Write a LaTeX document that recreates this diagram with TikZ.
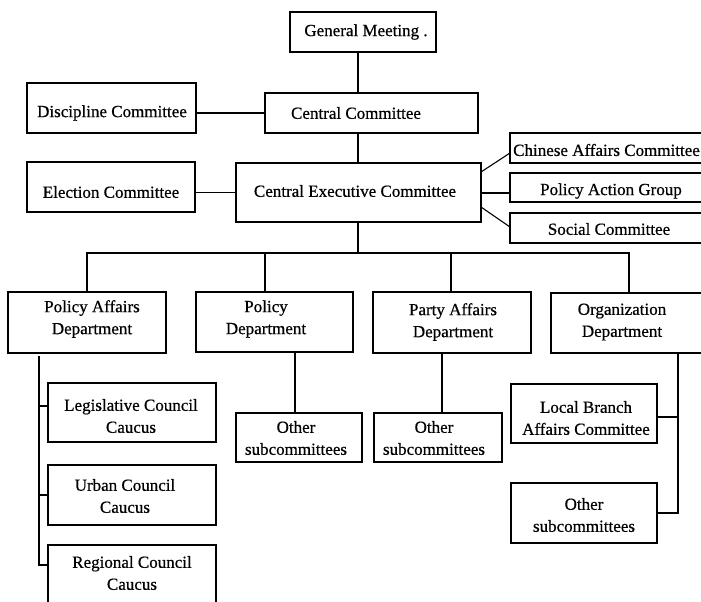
\documentclass[tikz,border=0pt]{standalone}
\usepackage{fontspec}
\setmainfont[FakeBold=0.6]{Liberation Serif}
\begin{document}
\begin{tikzpicture}[x=1pt,y=-1pt,
  box/.style={draw, line width=1.1pt, rectangle, inner sep=0pt, outer sep=0pt},
  lbl/.style={inner sep=0pt, align=center, font=\fontsize{17}{22}\selectfont},
  link/.style={line width=1.1pt}]
\useasboundingbox (0,0) rectangle (701,602);
\clip (0,0) rectangle (701,602);

% box given by its corners: name, left, top, right, bottom
\newcommand\orgbox[5]{%
  \node[box, minimum width={(#4-#2)*1pt}, minimum height={(#5-#3)*1pt}]
    (#1) at ({(#2+#4)/2},{(#3+#5)/2}) {};}

% top of the organisation
\orgbox{gm}{290}{12}{436}{52}
\orgbox{dc}{27}{83}{196}{133}
\orgbox{cc}{265}{93}{478}{133}
\orgbox{ec}{27}{162}{195}{212}
\orgbox{cec}{236}{163}{481}{222}
\orgbox{cac}{510}{133}{712}{163}
\orgbox{pag}{510}{173}{712}{202}
\orgbox{sc}{510}{213}{712}{243}

% departments
\orgbox{pad}{8}{292}{166}{353}
\orgbox{pd}{196}{292}{353}{352}
\orgbox{paff}{373}{292}{531}{353}
\orgbox{od}{551}{293}{712}{353}

% subcommittees
\orgbox{lcc}{48}{383}{216}{442}
\orgbox{ucc}{48}{465}{216}{525}
\orgbox{rcc}{48}{545}{216}{612}
\orgbox{po1}{236}{413}{362}{462}
\orgbox{po2}{374}{413}{502}{462}
\orgbox{lb}{511}{384}{657}{443}
\orgbox{oo}{511}{483}{657}{543}

% labels
\node[lbl] (gm-t) at (366,32) {General Meeting .};
\node[lbl] (dc-t) at (112,113) {Discipline Committee};
\node[lbl] (cc-t) at (356,113) {Central Committee};
\node[lbl] (ec-t) at (111,192) {Election Committee};
\node[lbl] (cec-t) at (355,191) {Central Executive Committee};
\node[lbl, anchor=west] (cac-t) at (513,150) {Chinese Affairs Committee};
\node[lbl] (pag-t) at (611,191) {Policy Action Group};
\node[lbl] (sc-t) at (609,229) {Social Committee};
\node[lbl] (pad-t) at (92,319) {Policy Affairs\\Department};
\node[lbl] (pd-t) at (266,319) {Policy\\Department};
\node[lbl] (paff-t) at (453,322) {Party Affairs\\Department};
\node[lbl] (od-t) at (622,322) {Organization\\Department};
\node[lbl] (lcc-t) at (131,416) {Legislative Council\\Caucus};
\node[lbl] (ucc-t) at (125,496) {Urban Council\\Caucus};
\node[lbl] (rcc-t) at (132,573) {Regional Council\\Caucus};
\node[lbl] (po1-t) at (296,438) {Other\\subcommittees};
\node[lbl] (po2-t) at (434,438) {Other\\subcommittees};
\node[lbl] (lb-t) at (586,418) {Local Branch\\Affairs Committee};
\node[lbl] (oo-t) at (584,515) {Other\\subcommittees};

% junction points of the connectors
\coordinate (busL) at (87,253);
\coordinate (busR) at (629,253);
\coordinate (padtrunk) at (39,356);
\coordinate (padend) at (39,565);
\coordinate (odend) at (678,513);

% upper chain
\draw[link] (358,0 |- gm.south) -- (358,0 |- cc.north);
\draw[link] (cc.west) -- (cc.west -| dc.east);
\draw[link] (358,0 |- cc.south) -- (358,0 |- cec.north);
\draw[link] (cec.west) -- (cec.west -| ec.east);
\draw[link] (cec.east |- 0,172) -- (cac.west |- 0,153);
\draw[link] (cec.east |- 0,193) -- (pag.west |- 0,193);
\draw[link] (cec.east |- 0,207) -- (sc.west |- 0,227);

% bus to the departments
\draw[link] (358,0 |- cec.south) -- (358,253);
\draw[link] (87,0 |- pad.north) -- (busL) -- (busR) -- (629,0 |- od.north);
\draw[link] (265,0 |- pd.north) -- (265,253);
\draw[link] (451,0 |- paff.north) -- (451,253);

% policy affairs department branches
\draw[link] (padtrunk) -- (padend) -- (padend -| rcc.west);
\draw[link] (39,406) -- (lcc.west |- 0,406);
\draw[link] (39,495) -- (ucc.west |- 0,495);

% other departments
\draw[link] (295,0 |- pd.south) -- (295,0 |- po1.north);
\draw[link] (442,0 |- paff.south) -- (442,0 |- po2.north);
\draw[link] (678,0 |- od.south) -- (odend) -- (odend -| oo.east);
\draw[link] (lb.east |- 0,417) -- (678,417);
\end{tikzpicture}
\end{document}
